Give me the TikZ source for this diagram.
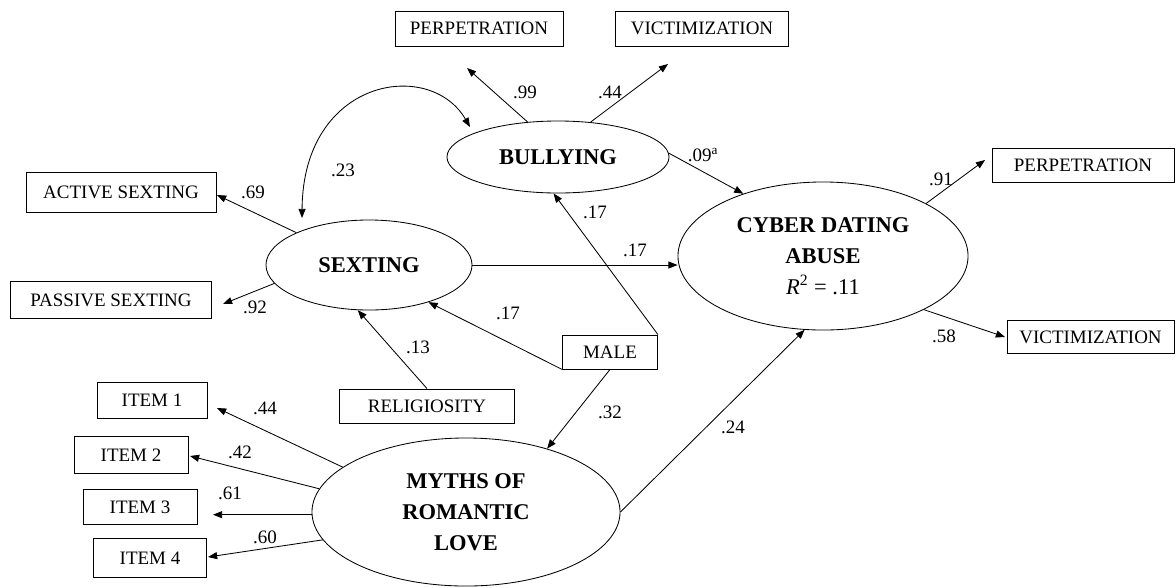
\documentclass[tikz,border=0pt]{standalone}
\usepackage{fontspec}
\setmainfont{Liberation Serif}
\usepackage{tikz}
\usetikzlibrary{arrows.meta}
\usetikzlibrary{shapes.geometric}
\tikzset{
  lat/.style={draw,ellipse,inner sep=0pt,align=center,font=\fontsize{16}{22}\selectfont\bfseries},
  obs/.style={draw,rectangle,inner sep=0pt,minimum height=0.875cm,font=\fontsize{13.5}{16}\selectfont},
  coef/.style={inner sep=0pt,font=\fontsize{13.5}{16}\selectfont},
  arr/.style={-{Triangle[length=6.5pt,width=5pt]}},
  cov/.style={{Triangle[length=6.5pt,width=5pt]}-{Triangle[length=6.5pt,width=5pt]}},
}

\begin{document}
\begin{tikzpicture}[x=0.025cm,y=-0.025cm,line width=0.6pt]
    \useasboundingbox (0,0) rectangle (1176,587);
    \node[lat,minimum width=5.55cm,minimum height=1.8cm] (bully) at (558,157) {BULLYING};
    \node[lat,minimum width=5.15cm,minimum height=2.25cm] (sext) at (369,265) {SEXTING};
    \node[lat,minimum width=7.25cm,minimum height=3.7cm] (cda) at (823,256)
      {CYBER DATING\\ABUSE\\{\mdseries\textit{R}\textsuperscript{2} = .11}};
    \node[lat,minimum width=7.7cm,minimum height=3.7cm] (myth) at (466,512)
      {MYTHS OF\\ROMANTIC\\LOVE};

    \node[obs,minimum width=4.2cm] (bperp) at (479,28.5) {PERPETRATION};
    \node[obs,minimum width=4.325cm] (bvict) at (702,28.5) {VICTIMIZATION};
    \node[obs,minimum width=4.75cm,minimum height=1cm] (active) at (121,192) {ACTIVE SEXTING};
    \node[obs,minimum width=5.025cm,minimum height=0.925cm] (passive) at (111,300) {PASSIVE SEXTING};
    \node[obs,minimum width=4.55cm,minimum height=0.85cm] (cperp) at (1083,165) {PERPETRATION};
    \node[obs,minimum width=4.175cm,minimum height=0.825cm] (cvict) at (1090.5,337) {VICTIMIZATION};
    \node[obs,minimum width=2.75cm,minimum height=0.9cm] (item1) at (152,400) {ITEM 1};
    \node[obs,minimum width=2.85cm,minimum height=0.925cm] (item2) at (131,455) {ITEM 2};
    \node[obs,minimum width=2.85cm] (item3) at (140,507) {ITEM 3};
    \node[obs,minimum width=2.825cm,minimum height=0.975cm] (item4) at (150,558) {ITEM 4};
    \node[obs,minimum width=4.375cm,minimum height=0.85cm] (relig) at (427,406) {RELIGIOSITY};
    \node[obs,minimum width=2.375cm,minimum height=0.85cm] (male) at (610,352) {MALE};

    \coordinate (bperp-in) at (467,68);
    \coordinate (bvict-in) at (668,64);
    \coordinate (active-in) at (217,195);
    \coordinate (passive-in) at (223,304);
    \coordinate (cperp-in) at (985,160);
    \coordinate (cvict-in) at (1005,337);
    \coordinate (item1-in) at (217,408);
    \coordinate (item2-in) at (190,456);
    \coordinate (item3-in) at (213,513);
    \coordinate (item4-in) at (208,557);
    \coordinate (cov-s) at (302,218);
    \coordinate (cov-b) at (470,127);

    \draw[arr] (bully.131) -- (bperp-in);
    \draw[arr] (bully.47) -- (bvict-in);
    \draw[arr] (bully.2) -- (cda.142);
    \draw[arr] (sext.156) -- (active-in);
    \draw[arr] (sext.191) -- (passive-in);
    \draw[arr] (sext.east) -- (sext.east -| cda.west);
    \draw[arr] (cda.27) -- (cperp-in);
    \draw[arr] (cda.332) -- (cvict-in);
    \draw[arr] (myth.160) -- (item1-in);
    \draw[arr] (myth.171) -- (item2-in);
    \draw[arr] (myth.181) -- (item3-in |- myth.181);
    \draw[arr] (myth.191) -- (item4-in);
    \draw[arr] (myth.east) -- (cda.256);
    \draw[arr] (relig.north) -- (sext.256);
    \draw[arr] (male.south west) -- (sext.328);
    \draw[arr] (male.north east) -- (bully.263);
    \draw[arr] (male.south) -- (myth.38);
    \draw[cov] (cov-s) .. controls +(1,-140) and +(-40,-69) .. (cov-b);

    \node[coef] (l-bperp) at (525,92) {.99};
    \node[coef] (l-bvict) at (610,92) {.44};
    \node[coef] (l-bcda) at (703,155) {.09\textsuperscript{a}};
    \node[coef] (l-cov) at (343,170) {.23};
    \node[coef] (l-active) at (253,192) {.69};
    \node[coef] (l-passive) at (255,307) {.92};
    \node[coef] (l-mbully) at (595,212) {.17};
    \node[coef] (l-scda) at (635,250) {.17};
    \node[coef] (l-msext) at (508,313) {.17};
    \node[coef] (l-relig) at (418,347) {.13};
    \node[coef] (l-mmyth) at (610,412) {.32};
    \node[coef] (l-mcda) at (733,427) {.24};
    \node[coef] (l-cperp) at (941,179) {.91};
    \node[coef] (l-cvict) at (944,336) {.58};
    \node[coef] (l-item1) at (265,408) {.44};
    \node[coef] (l-item2) at (240,452) {.42};
    \node[coef] (l-item3) at (230,493) {.61};
    \node[coef] (l-item4) at (265,537) {.60};
\end{tikzpicture}
\end{document}
